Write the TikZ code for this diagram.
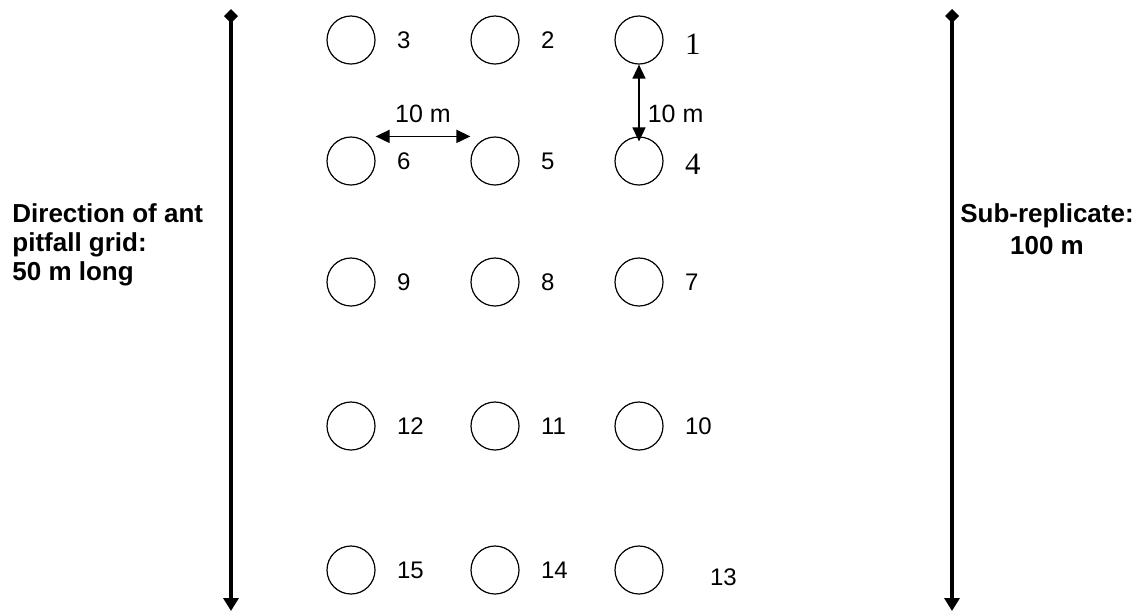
\documentclass[tikz,border=0pt]{standalone}
\usepackage{fontspec}
\setmainfont{Liberation Sans}
\newfontfamily\trapserif{Liberation Serif}
\usetikzlibrary{arrows.meta}

\begin{document}
\begin{tikzpicture}[x=0.5pt, y=-0.5pt,
  trap/.style={circle, draw, line width=0.6pt, minimum size=24pt, inner sep=0pt},
  traplabel/.style={anchor=west, inner sep=0pt, font=\fontsize{12}{14}\selectfont},
  axisline/.style={line width=1.8pt, {Diamond[length=7pt,width=7pt]}-{Triangle[length=6.5pt,width=7.5pt]}},
  spacing/.style={line width=0.8pt, {Triangle[length=7pt,width=6.5pt]}-{Triangle[length=7pt,width=6.5pt]}},
  boldnote/.style={inner sep=0pt, font=\fontsize{13}{14.5}\selectfont\bfseries}]
  \useasboundingbox (0,0) rectangle (1139,612);

  % ---------- pitfall traps: 5 rows x 3 columns, numbered right to left ----------
  \foreach \row/\y in {0/40,1/161,2/282,3/426,4/570}
    \foreach \col/\x in {0/351,1/495,2/639} {
      \pgfmathtruncatemacro{\n}{3*\row+3-\col}
      \node[trap] (p\n) at (\x,\y) {};
    }

  % ---------- trap numbers ----------
  \foreach \n in {2,3,5,6,7,8,9,10,11,12,14,15}
    \node[traplabel] (l\n) at ([xshift=10.5pt]p\n.east) {\n};
  \node[traplabel, font=\trapserif\fontsize{15.5}{17}\selectfont] (l1) at ([xshift=10.5pt,yshift=-2pt]p1.east) {1};
  \node[traplabel, font=\trapserif\fontsize{15.5}{17}\selectfont] (l4) at ([xshift=10.5pt,yshift=-1.5pt]p4.east) {4};
  \node[traplabel] (l13) at ([xshift=23pt,yshift=-3.5pt]p13.east) {13};

  % ---------- 10 m spacings ----------
  \draw[spacing] (p6.east |- p6.north) -- (p5.west |- p5.north)
    node[midway, above=6.5pt, inner sep=0pt, font=\fontsize{12.5}{14}\selectfont] (hgap) {10 m};
  \draw[spacing] (p1.south) -- ([yshift=-2.5pt]p4.north)
    node[pos=0.645, right=4pt, inner sep=0pt, font=\fontsize{12.5}{14}\selectfont] (vgap) {10 m};

  % ---------- long axes ----------
  \coordinate (gridtop) at (231,9);
  \coordinate (gridend) at (231,611);
  \draw[axisline] (gridtop) -- (gridend);
  \coordinate (subtop) at (952,9);
  \coordinate (subend) at (952,611);
  \draw[axisline] (subtop) -- (subend);

  % ---------- side notes ----------
  \node[boldnote, align=left, anchor=west] (gridnote) at (12,245)
    {Direction of ant\\pitfall grid:\\50 m long};
  \node[boldnote, align=center, font=\fontsize{13}{16}\selectfont\bfseries] (subnote) at (1047,229)
    {Sub-replicate:\\100 m};
\end{tikzpicture}
\end{document}
